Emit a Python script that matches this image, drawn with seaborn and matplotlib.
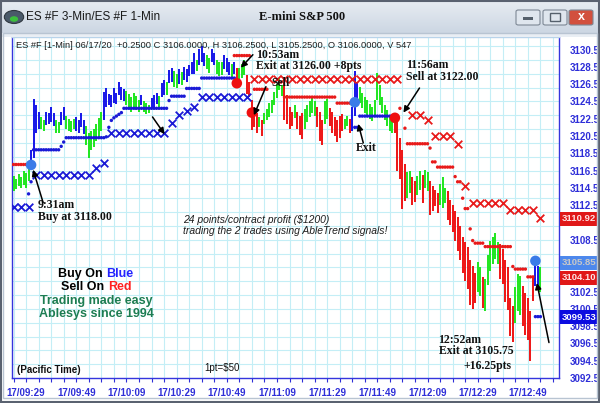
import numpy as np
import pandas as pd
import matplotlib
matplotlib.use("Agg")
import matplotlib.pyplot as plt
import seaborn as sns
from matplotlib.patches import Rectangle, FancyBboxPatch, Circle
import matplotlib.transforms as mtrans

# ---------------- data ----------------
# minutes after 09:29 (one bar per minute), from 09:24 to 12:54
bar_start_minute = -5
bar_high = [
    3115.9, 3115.5, 3116.1, 3115.7, 3116.4, 3116.2, 3116.9, 3118.9, 3124.8, 3124.1,
    3123.3, 3122.7, 3122.3, 3123.3, 3123.1, 3123.8, 3123.2, 3122.4, 3122.1, 3123.3,
    3123.9, 3122.8, 3122.5, 3122.2, 3122.5, 3122.7, 3122.3, 3123.1, 3122.3, 3121.6,
    3120.8, 3121.1, 3121.3, 3121.9, 3122.6, 3123.3, 3125.6, 3126.0, 3125.4, 3125.2,
    3126.0, 3125.5, 3126.7, 3126.2, 3125.9, 3125.7, 3125.4, 3125.0, 3125.5, 3125.1,
    3124.7, 3125.2, 3124.6, 3124.3, 3124.1, 3124.9, 3125.2, 3125.5, 3125.1, 3126.6,
    3127.0, 3126.7, 3128.1, 3128.4, 3128.0, 3127.7, 3128.2, 3127.9, 3128.5, 3128.2,
    3128.7, 3129.1, 3130.1, 3129.3, 3130.6, 3130.9, 3130.1, 3129.9, 3129.5, 3130.6,
    3130.1, 3129.3, 3129.0, 3129.1, 3129.9, 3129.5, 3129.1, 3128.8, 3129.1, 3128.4,
    3128.4, 3128.8, 3129.3, 3127.6, 3126.8, 3124.7, 3123.8, 3123.1, 3122.7, 3122.3,
    3123.1, 3123.6, 3124.3, 3124.7, 3125.6, 3126.5, 3127.2, 3126.4, 3126.8, 3125.2,
    3123.8, 3123.3, 3124.1, 3123.3, 3122.8, 3123.1, 3123.6, 3124.1, 3124.5, 3124.9,
    3124.6, 3123.9, 3123.3, 3122.3, 3124.5, 3124.8, 3123.7, 3123.3, 3122.7, 3122.3,
    3122.8, 3123.0, 3122.5, 3122.8, 3122.5, 3123.8, 3128.0, 3126.7, 3126.2, 3125.5,
    3125.0, 3124.7, 3124.2, 3123.8, 3124.7, 3127.8, 3126.4, 3125.0, 3124.1, 3123.5,
    3122.9, 3122.7, 3122.7, 3122.3, 3120.3, 3118.9, 3117.2, 3116.3, 3116.4, 3115.8,
    3115.3, 3115.9, 3116.4, 3116.0, 3116.6, 3116.3, 3115.3, 3114.7, 3114.3, 3113.9,
    3115.0, 3115.8, 3114.5, 3114.1, 3113.1, 3112.5, 3111.8, 3111.1, 3110.1, 3108.8,
    3108.2, 3107.6, 3106.2, 3105.5, 3104.7, 3105.9, 3105.3, 3104.2, 3103.9, 3106.7,
    3108.4, 3108.8, 3109.3, 3108.2, 3108.0, 3107.4, 3106.2, 3105.3, 3101.8, 3100.8,
    3103.0, 3104.5, 3104.3, 3103.2, 3102.3, 3101.8, 3100.3, 3104.1, 3105.9, 3105.5, 3105.3,
]
bar_low = [
    3114.1, 3114.4, 3114.7, 3114.5, 3114.8, 3114.5, 3115.3, 3116.9, 3117.9, 3120.8,
    3121.3, 3121.3, 3121.1, 3121.8, 3121.9, 3122.1, 3121.7, 3120.9, 3120.8, 3121.8,
    3122.3, 3121.3, 3121.1, 3121.0, 3121.3, 3121.1, 3120.9, 3121.5, 3120.7, 3119.4,
    3118.0, 3118.9, 3119.2, 3119.9, 3120.4, 3121.1, 3122.3, 3123.8, 3124.1, 3123.8,
    3124.3, 3124.2, 3125.2, 3124.7, 3124.5, 3124.1, 3123.7, 3123.3, 3123.9, 3123.5,
    3123.3, 3124.1, 3123.3, 3123.0, 3123.1, 3123.7, 3123.9, 3124.2, 3123.8, 3125.0,
    3125.2, 3125.2, 3126.6, 3126.8, 3126.2, 3126.0, 3126.5, 3126.4, 3127.0, 3126.7,
    3127.4, 3127.7, 3127.7, 3128.0, 3128.7, 3129.0, 3128.6, 3128.2, 3127.8, 3129.1,
    3128.7, 3127.7, 3127.4, 3127.6, 3128.2, 3127.9, 3127.6, 3127.2, 3127.7, 3126.2,
    3127.0, 3127.2, 3127.6, 3125.4, 3125.0, 3121.2, 3121.5, 3120.8, 3121.5, 3120.5,
    3121.9, 3122.3, 3122.7, 3123.1, 3124.1, 3124.9, 3125.8, 3125.1, 3122.3, 3121.9,
    3121.3, 3121.7, 3122.6, 3121.3, 3120.6, 3120.2, 3121.3, 3122.1, 3122.7, 3123.1,
    3122.8, 3121.5, 3119.9, 3119.5, 3121.9, 3122.5, 3121.7, 3120.9, 3120.5, 3119.8,
    3120.3, 3121.1, 3121.3, 3121.6, 3120.9, 3121.1, 3122.8, 3124.1, 3124.3, 3123.7,
    3123.1, 3122.7, 3122.5, 3122.2, 3122.9, 3124.7, 3124.1, 3123.1, 3122.3, 3121.7,
    3121.1, 3120.8, 3120.9, 3116.4, 3115.5, 3112.0, 3113.0, 3113.3, 3113.9, 3112.5,
    3112.9, 3113.7, 3114.3, 3112.7, 3114.5, 3114.1, 3111.4, 3111.8, 3112.4, 3111.6,
    3112.5, 3112.2, 3112.7, 3110.8, 3110.2, 3109.4, 3108.4, 3107.2, 3106.2, 3104.7,
    3103.7, 3102.8, 3101.0, 3100.5, 3101.2, 3102.4, 3102.0, 3100.6, 3100.2, 3103.3,
    3104.9, 3105.7, 3106.3, 3105.7, 3103.9, 3103.4, 3101.3, 3100.4, 3097.4, 3096.7,
    3098.9, 3100.3, 3099.8, 3098.5, 3097.5, 3096.9, 3094.5, 3101.4, 3103.2, 3103.0, 3102.4,
]
# bar colour codes: g = green, b = blue (buy), r = red (sell)
bar_color = ("ggggggg" "bbbb" "gg" "bbbb" "gg" "bb" "gggg" "bbbb" "ggggggg" "bbbbbbbbb"
             "gggggg" "b" "ggg" "bbb" "g" "bb" "g" "bb" "gg" "b" "g" "bbbbb" "g" "bbb"
             "gg" "bb" "ggg" "bbb" "g" "b" "r" "ggg" "rrrrr" "g" "r" "gggggggg" "rrrr"
             "g" "rrr" "ggggg" "rrr" "gg" "rrrrrr" "gg" "r" "bbb" "gggggggggggggg"
             "rrrrr" "gg" "rr" "gg" "r" "gg" "rrrr" "ggg" "rrrrrrrrrrrr" "gg" "r"
             "gggggg" "rrrrrr" "ggg" "rrrrr" "bb" "g")

# trailing stops (1-min dots): (first minute, last minute, level)
blue_dot_segments = [(1, 1, 3113.8), (2, 2, 3115.2), (3, 13, 3118.9), (14, 14, 3119.3),
                     (15, 15, 3119.8), (16, 31, 3120.3), (32, 32, 3120.4), (33, 33, 3121.5),
                     (34, 34, 3122.3), (35, 35, 3122.6), (36, 36, 3122.8), (37, 37, 3123.0),
                     (38, 38, 3123.2), (39, 56, 3123.7), (57, 57, 3124.6), (58, 63, 3125.1),
                     (64, 69, 3126.0), (70, 83, 3127.2), (131, 132, 3121.5), (133, 146, 3122.8),
                     (203, 205, 3099.6)]
red_dot_segments = [(-5, 1, 3117.2), (83, 89, 3129.8), (91, 96, 3125.9), (103, 123, 3125.0),
                    (124, 129, 3124.3), (149, 149, 3123.7), (151, 151, 3121.4), (152, 160, 3119.6),
                    (161, 161, 3119.1), (162, 163, 3117.5), (164, 170, 3116.9), (171, 171, 3115.8),
                    (172, 173, 3115.2), (174, 174, 3113.3), (175, 176, 3112.1), (177, 177, 3109.75),
                    (178, 178, 3108.4), (179, 182, 3108.1), (183, 193, 3107.7), (194, 194, 3105.4),
                    (195, 199, 3105.1), (200, 202, 3104.2)]
# 3-min stops (x markers, every 3 minutes): (first minute, last minute, level)
blue_x_segments = [(-5, 1, 3112.3), (4, 25, 3116.0), (28, 28, 3116.8), (31, 31, 3117.4),
                   (34, 55, 3120.85), (58, 58, 3122.0), (61, 61, 3122.9), (64, 64, 3123.4),
                   (67, 67, 3123.8), (70, 88, 3125.0)]
red_x_segments = [(91, 148, 3127.1), (154, 157, 3122.9), (160, 160, 3122.4), (163, 169, 3120.5),
                  (172, 172, 3119.6), (175, 175, 3114.7), (178, 190, 3112.75), (193, 202, 3111.9),
                  (205, 205, 3111.0)]

# trade signals (big dots)
signal_minute = [2, 84, 90, 131, 147, 203]
signal_price = [3117.15, 3126.6, 3123.2, 3124.4, 3122.6, 3106.05]
signal_side = ["buy", "sell", "sell", "buy", "sell", "buy"]

x_tick_minutes = [0, 20, 40, 60, 80, 100, 120, 140, 160, 180, 200]
x_tick_labels = ["17/09:29", "17/09:49", "17/10:09", "17/10:29", "17/10:49", "17/11:09",
                 "17/11:29", "17/11:49", "17/12:09", "17/12:29", "17/12:49"]
y_tick_values = [3092.5, 3094.5, 3096.5, 3098.5, 3100.5, 3102.5, 3108.5,
                 3112.5, 3114.5, 3116.5, 3118.5, 3120.5, 3122.5, 3124.5, 3126.5, 3128.5, 3130.5]
price_tags = [3110.92, 3105.85, 3104.10, 3099.53]
price_tag_kind = ["sell", "buy_light", "sell", "buy"]

# ---------------- style ----------------
sns.set_theme(style="white")
plt.rcParams["font.family"] = ["Liberation Sans", "DejaVu Sans"]

W, H = 600, 403
fig = plt.figure(figsize=(6, 4.03), dpi=100)
fig.patch.set_facecolor("white")


def fx(px):
    return px / W


def fy(py):
    return 1 - py / H


GREEN = "#1ee61e"
BLUE = "#1515e8"
RED = "#ee1414"
STOP_BLUE = "#1a1ad6"
STOP_RED = "#e81a1a"
AXBLUE = "#2e2ed8"

# ---- window chrome ----
tb = fig.add_axes([0, fy(33), 1, 33 / H])
grad = np.linspace(0, 1, 64).reshape(-1, 1)
top_c = np.array([0.91, 0.93, 0.95])
bot_c = np.array([0.80, 0.84, 0.89])
img = top_c[None, None, :] * (1 - grad[:, :, None]) + bot_c[None, None, :] * grad[:, :, None]
tb.imshow(img, aspect="auto", extent=[0, 1, 0, 1])
tb.set_xlim(0, 1)
tb.set_ylim(0, 1)
tb.axis("off")

fig.patches.append(Rectangle((fx(0), fy(37)), 1, 4 / H, transform=fig.transFigure,
                             facecolor="#e9eef4", edgecolor="none", zorder=0))
# outer frame
fig.patches.append(Rectangle((0.0015, 0.0025), 0.997, 0.995, transform=fig.transFigure,
                             facecolor="none", edgecolor="#5a6270", lw=1.5, zorder=5))
fig.patches.append(Rectangle((fx(3), fy(398)), fx(594), (398 - 33) / H, transform=fig.transFigure,
                             facecolor="none", edgecolor="#b8c4d2", lw=1.0, zorder=5))

# icon
fig.patches.append(Circle((fx(14), fy(17)), 6.5 / H, transform=fig.transFigure,
                          facecolor="#4a5a6a", edgecolor="#303840", lw=0.8, zorder=6))
fig.patches.append(Circle((fx(14), fy(19)), 2.8 / H, transform=fig.transFigure,
                          facecolor="#3cbf3c", edgecolor="none", zorder=7))
fig.text(fx(26), fy(17), "ES #F 3-Min/ES #F 1-Min", fontsize=8.5, color="#1a1a1a",
         va="center", ha="left")
fig.text(fx(302), fy(17), "E-mini S&P 500", fontsize=9, fontweight="bold",
         family="Liberation Serif", color="#111111", va="center", ha="center")
# window buttons
for x0, fc in [(516, "#dfe6ee"), (543, "#dfe6ee"), (569, "#d2503e")]:
    fig.patches.append(FancyBboxPatch((fx(x0), fy(25)), fx(24), 15 / H,
                                      boxstyle="round,pad=0,rounding_size=0.004",
                                      transform=fig.transFigure, facecolor=fc,
                                      edgecolor="#7d8895", lw=0.8, zorder=6))
fig.patches.append(Rectangle((fx(523), fy(19.5)), fx(10), 2.5 / H, transform=fig.transFigure,
                             facecolor="#55606c", edgecolor="none", zorder=7))
fig.patches.append(Rectangle((fx(550), fy(21)), fx(10), 8 / H, transform=fig.transFigure,
                             facecolor="none", edgecolor="#55606c", lw=1.0, zorder=7))
fig.text(fx(581), fy(17.5), "x", fontsize=9, fontweight="bold", color="white",
         ha="center", va="center", zorder=8)

# header line
fig.text(fx(16), fy(45.5), "ES #F [1-Min] 06/17/20  +0.2500 C 3106.0000, H 3106.2500, "
         "L 3105.2500, O 3106.0000, V 547", fontsize=6.7, color="#1e1e1e",
         va="center", ha="left", zorder=10)

# ---------------- chart ----------------
ax = fig.add_axes([fx(12), fy(378), fx(559) - fx(12), fy(37) - fy(378)])
ax.set_facecolor("white")
ax.set_xlim(-5.6, 212.4)
ax.set_ylim(3092.5, 3131.95)

# grid
for gx in np.arange(-5, 213, 5):
    ax.axvline(gx, color="#c4eef6", lw=0.8, zorder=0)
for gy in np.arange(3092.5, 3132, 1.6):
    ax.axhline(gy, color="#c4eef6", lw=0.8, zorder=0)

minutes = np.arange(bar_start_minute, bar_start_minute + len(bar_high))
bars = pd.DataFrame({"minute": minutes, "high": bar_high, "low": bar_low,
                     "kind": list(bar_color)})
cmap = {"g": GREEN, "b": BLUE, "r": RED}
ax.vlines(bars["minute"], bars["low"], bars["high"],
          colors=[cmap[k] for k in bars["kind"]], lw=1.4, zorder=3)


def expand(segs, step=1):
    rows = []
    for a, b, v in segs:
        for m in range(a, b + 1, step):
            rows.append((m, v))
    return pd.DataFrame(rows, columns=["minute", "price"])


bd = expand(blue_dot_segments)
rd = expand(red_dot_segments)
bx = expand(blue_x_segments, 3)
rx = expand(red_x_segments, 3)

sns.scatterplot(data=bd, x="minute", y="price", ax=ax, marker="o", s=6, color=STOP_BLUE,
                edgecolor="none", zorder=4, legend=False)
sns.scatterplot(data=rd, x="minute", y="price", ax=ax, marker="o", s=6, color=STOP_RED,
                edgecolor="none", zorder=4, legend=False)
sns.scatterplot(data=bx, x="minute", y="price", ax=ax, marker="x", s=30, color=STOP_BLUE,
                linewidth=1.3, zorder=4, legend=False)
sns.scatterplot(data=rx, x="minute", y="price", ax=ax, marker="x", s=30, color=STOP_RED,
                linewidth=1.3, zorder=4, legend=False)

sig = pd.DataFrame({"minute": signal_minute, "price": signal_price, "side": signal_side})
sns.scatterplot(data=sig, x="minute", y="price", hue="side", ax=ax, s=58,
                palette={"buy": "#3a7be8", "sell": "#ee1010"}, edgecolor="none",
                zorder=6, legend=False)

# axes styling
ax.yaxis.tick_right()
ax.set_yticks(y_tick_values)
ax.set_yticklabels([f"{v:.1f}" for v in y_tick_values])
ax.set_xticks(x_tick_minutes)
ax.set_xticklabels(x_tick_labels)
ax.set_xticks(np.arange(-5, 213, 5), minor=True)
ax.tick_params(axis="y", length=0, pad=8, labelsize=7, labelcolor=AXBLUE)
ax.tick_params(axis="x", which="both", length=3, width=0.8, color=AXBLUE, direction="out",
               pad=4, labelsize=7, labelcolor=AXBLUE, bottom=True)
for lab in ax.get_xticklabels() + ax.get_yticklabels():
    lab.set_fontweight("bold")
ax.set_xlabel("")
ax.set_ylabel("")
for side in ["left", "bottom", "right"]:
    ax.spines[side].set_color("#3535dd")
    ax.spines[side].set_linewidth(1.0)
ax.spines["top"].set_color("#b9d3ea")
ax.spines["top"].set_linewidth(1.0)

# price tags on the right axis
tag_colors = {"sell": ("#e01818", "#ffe4e4"), "buy_light": ("#4d88ec", "#c8c8c8"),
              "buy": ("#0c0ce0", "#ffffff")}
trans = mtrans.blended_transform_factory(ax.transAxes, ax.transData)
for val, kind in zip(price_tags, price_tag_kind):
    fc, tc = tag_colors[kind]
    ax.add_patch(Rectangle((1.002, val - 0.82), 0.08, 1.64, transform=trans, facecolor=fc,
                           edgecolor="none", clip_on=False, zorder=20))
    ax.text(1.005, val, f"{val:.2f}", transform=trans, fontsize=6.8, fontweight="bold",
            color=tc, va="center", ha="left", clip_on=False, zorder=21)

# annotations
serif = dict(family="Liberation Serif", fontweight="bold", fontsize=8.5, color="#111111")
ax.text(4.8, 3113.2, "9:31am\nBuy at 3118.00", va="top", ha="left", linespacing=0.95, **serif)
ax.text(91.6, 3130.6, "10:53am\nExit at 3126.00 +8pts", va="top", ha="left", linespacing=0.95,
        zorder=7, **serif)
ax.text(97.6, 3126.6, "Sell", va="center", ha="left", zorder=7, **serif)
ax.text(131.6, 3119.1, "Exit", va="center", ha="left", zorder=7, **serif)
ax.text(151.6, 3129.4, "11:56am\nSell at 3122.00", va="top", ha="left", linespacing=0.95,
        zorder=7, **serif)
ax.text(164.4, 3097.6, "12:52am\nExit at 3105.75", va="top", ha="left", linespacing=0.95,
        zorder=7, **serif)
ax.text(174.4, 3093.9, "+16.25pts", va="center", ha="left", zorder=7, **serif)

arrow = dict(arrowstyle="-|>", color="black", lw=1.1, mutation_scale=9, shrinkA=0, shrinkB=0)
for (tx, ty), (hx, hy) in [((6.8, 3112.8), (2.8, 3116.6)),
                           ((90.4, 3129.9), (85.6, 3128.4)),
                           ((95.6, 3126.2), (90.8, 3122.9)),
                           ((134.4, 3119.7), (132.4, 3121.9)),
                           ((156.8, 3126.05), (150.4, 3123.2)),
                           ((50.4, 3122.7), (55.2, 3120.7)),
                           ((208.4, 3096.6), (203.6, 3103.5))]:
    ax.annotate("", xy=(hx, hy), xytext=(tx, ty), arrowprops=arrow, zorder=8)

ax.text(62.4, 3110.1, "24 points/contract profit ($1200)\ntrading the 2 trades using AbleTrend signals!",
        fontsize=7.5, style="italic", color="#1e1e1e", va="center", ha="left", linespacing=1.15)

bold9 = dict(fontsize=9, fontweight="bold")
ax.text(30.4, 3104.55, "Buy On", color="black", ha="right", va="center", **bold9)
ax.text(32.0, 3104.55, "Blue", color="#2323ff", ha="left", va="center", **bold9)
ax.text(31.0, 3103.05, "Sell On", color="black", ha="right", va="center", **bold9)
ax.text(32.8, 3103.05, "Red", color="#ff2020", ha="left", va="center", **bold9)
ax.text(28.0, 3101.4, "Trading made easy", color="#1d7d52", ha="center", va="center", **bold9)
ax.text(28.0, 3099.9, "Ablesys since 1994", color="#1d7d52", ha="center", va="center", **bold9)

ax.text(-3.6, 3093.4, "(Pacific Time)", fontsize=7, fontweight="bold", color="#111111",
        ha="left", va="center")
ax.text(78, 3093.6, "1pt=$50", fontsize=7, color="#111111", ha="center", va="center")

fig.savefig("out.png", dpi=100, facecolor=fig.get_facecolor())
